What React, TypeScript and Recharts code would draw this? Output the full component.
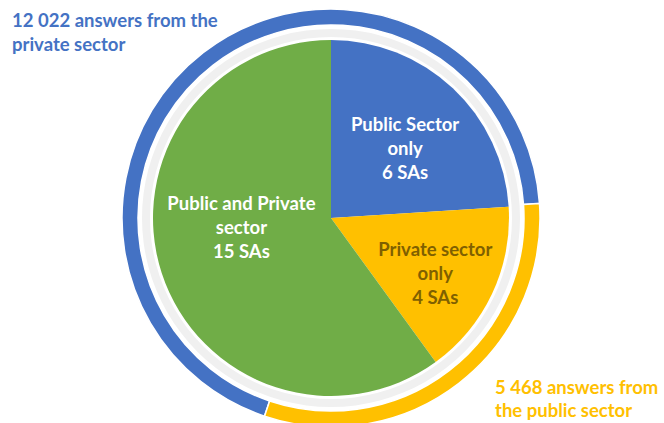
import { PieChart, Pie, Cell } from 'recharts';

// inner pie: number of SAs per group
const sliceLines = [['Public Sector', 'only'], ['Private sector', 'only'], ['Public and Private', 'sector']];
const sliceCounts = [6, 4, 15];

// outer ring: answers per sector
const ringSectors = ['private sector', 'public sector'];
const ringAnswers = [12022, 5468];

const SLICE_COLORS = ['#4472C4', '#FFC000', '#70AD47'];
const SLICE_TEXT = ['#ffffff', '#7F6000', '#ffffff'];
const RING_COLORS = ['#4472C4', '#FFC000'];

// label placement tweaks (radius, angle shift) per slice
const LABEL_POS = [
  { r: 102, da: -3.4 },
  { r: 118, da: -2.7 },
  { r: 90, da: -12.3 },
];

const W = 664;
const H = 423;
const CX = 331;
const CY = 218;
const FONT = 'Lato, "Open Sans", sans-serif';

const sliceData = sliceLines.map((lines, i) => ({
  name: lines.join(' '),
  lines,
  value: sliceCounts[i],
}));
const ringData = ringSectors.map((s, i) => ({ name: s, value: ringAnswers[i] }));
const gapData = [{ name: 'gap', value: 1 }];

const fmt = (n: number) => n.toString().replace(/\B(?=(\d{3})+(?!\d))/g, ' ');

const RADIAN = Math.PI / 180;

function renderSliceLabel(props: any) {
  const { cx, cy, midAngle, index } = props;
  const pos = LABEL_POS[index];
  const a = (midAngle + pos.da) * RADIAN;
  const x = cx + pos.r * Math.cos(a);
  const y = cy - pos.r * Math.sin(a);
  const lines = [...sliceData[index].lines, `${sliceCounts[index]} SAs`];
  return (
    <text
      key={`lbl-${index}`}
      x={x}
      y={y}
      textAnchor="middle"
      fill={SLICE_TEXT[index]}
      fontFamily={FONT}
      fontWeight={700}
      fontSize={18.5}
    >
      {lines.map((t, j) => (
        <tspan key={j} x={x} y={y + (j - 1) * 24} dominantBaseline="central">
          {t}
        </tspan>
      ))}
    </text>
  );
}

export default function App() {
  return (
    <div style={{ position: 'relative', width: W, height: H, background: '#fff', overflow: 'hidden' }}>
      <style>{`body{margin:0}`}</style>
      <PieChart width={W} height={H} margin={{ top: 0, right: 0, bottom: 0, left: 0 }}>
        <Pie
          data={gapData}
          dataKey="value"
          cx={CX}
          cy={CY}
          innerRadius={181}
          outerRadius={189}
          stroke="none"
          fill="#f0f0f0"
          isAnimationActive={false}
        />
        <Pie
          data={sliceData}
          dataKey="value"
          cx={CX}
          cy={CY}
          outerRadius={178}
          startAngle={90}
          endAngle={-270}
          stroke="none"
          label={renderSliceLabel}
          labelLine={false}
          isAnimationActive={false}
        >
          {sliceData.map((d, i) => (
            <Cell key={d.name} fill={SLICE_COLORS[i]} />
          ))}
        </Pie>
        <Pie
          data={ringData}
          dataKey="value"
          cx={CX}
          cy={CY}
          innerRadius={193}
          outerRadius={209}
          startAngle={4}
          endAngle={364}
          stroke="#fff"
          strokeWidth={1.5}
          isAnimationActive={false}
        >
          {ringData.map((d, i) => (
            <Cell key={d.name} fill={RING_COLORS[i]} />
          ))}
        </Pie>
      </PieChart>
      <div
        style={{
          position: 'absolute',
          left: 12,
          top: 8,
          color: '#4472C4',
          fontFamily: FONT,
          fontWeight: 700,
          fontSize: 18.5,
          lineHeight: '24px',
        }}
      >
        {fmt(ringAnswers[0])} answers from the
        <br />
        {ringSectors[0]}
      </div>
      <div
        style={{
          position: 'absolute',
          left: 495,
          top: 376,
          color: '#FFC000',
          fontFamily: FONT,
          fontWeight: 700,
          fontSize: 18.5,
          lineHeight: '23px',
        }}
      >
        {fmt(ringAnswers[1])} answers from
        <br />
        the {ringSectors[1]}
      </div>
    </div>
  );
}
